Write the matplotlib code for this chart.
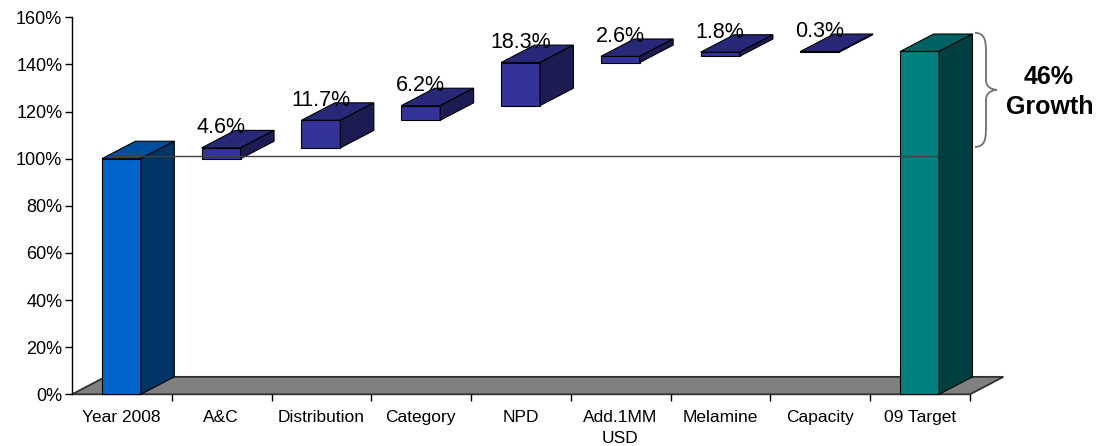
import numpy as np
import matplotlib as mpl
import matplotlib.pyplot as plt
from matplotlib.patches import Polygon, PathPatch
from matplotlib.path import Path

mpl.rcParams.update({
    "font.family": ["Liberation Sans", "DejaVu Sans"],
    "font.size": 12.5,
})

# ---- data ------------------------------------------------------------------
categories = ["Year 2008", "A&C", "Distribution", "Category", "NPD",
              "Add.1MM\nUSD", "Melamine", "Capacity", "09 Target"]
start_value = 100.0
increments = [4.6, 11.7, 6.2, 18.3, 2.6, 1.8, 0.3]
target_value = 145.5
growth_lines = ["46%", "Growth"]
yticks = [0, 20, 40, 60, 80, 100, 120, 140, 160]

# ---- style ------------------------------------------------------------------
FRONT = {"start": "#0066CC", "step": "#333399", "target": "#008080"}
TOP = {"start": "#004E9E", "step": "#282878", "target": "#006262"}
SIDE = {"start": "#003366", "step": "#1C1C52", "target": "#004040"}
BAR_OFF, BAR_W = 0.30, 0.39      # front face left offset / width (category units)
DX, DY = 0.335, 7.4              # 3-D depth offset (categories, percent)


def box(ax, x0, y0, y1, kind):
    x1 = x0 + BAR_W
    kw = dict(edgecolor="black", linewidth=0.8, clip_on=False, zorder=3)
    ax.add_patch(Polygon([(x0, y0), (x1, y0), (x1, y1), (x0, y1)],
                         facecolor=FRONT[kind], **kw))
    ax.add_patch(Polygon([(x0, y1), (x1, y1), (x1 + DX, y1 + DY), (x0 + DX, y1 + DY)],
                         facecolor=TOP[kind], **kw))
    ax.add_patch(Polygon([(x1, y0), (x1 + DX, y0 + DY), (x1 + DX, y1 + DY), (x1, y1)],
                         facecolor=SIDE[kind], **kw))


def brace(ax, x, y_top, y_bot, depth):
    ym = (y_top + y_bot) / 2
    q = depth / 2
    h = (y_top - y_bot) * 0.09
    verts = [(x, y_top),
             (x + q, y_top), (x + q, y_top - h), (x + q, y_top - 2 * h),
             (x + q, ym + h),
             (x + q, ym), (x + depth, ym), (x + depth, ym),
             (x + depth, ym), (x + q, ym), (x + q, ym - h),
             (x + q, y_bot + 2 * h),
             (x + q, y_bot + h), (x + q, y_bot), (x, y_bot)]
    codes = ([Path.MOVETO] + [Path.CURVE4] * 3 + [Path.LINETO] + [Path.CURVE4] * 6
             + [Path.LINETO] + [Path.CURVE4] * 3)
    ax.add_patch(PathPatch(Path(verts, codes), facecolor="none", edgecolor="#707070",
                           linewidth=1.3, clip_on=False, zorder=4))


fig = plt.figure(figsize=(11.03, 4.46), dpi=100)
ax = fig.add_axes([72 / 1103, (446 - 394.3) / 446, 898 / 1103, 377 / 446])
n = len(categories)
ax.set_xlim(0, n)
ax.set_ylim(0, 160)

# floor
ax.add_patch(Polygon([(0, 0), (n, 0), (n + DX, DY), (DX, DY)], facecolor="#808080",
                     edgecolor="#303030", linewidth=1.3, clip_on=False, zorder=1))

# bars
tops = start_value + np.cumsum(increments)
bases = tops - np.array(increments)
box(ax, BAR_OFF, 0, start_value, "start")
for i, (b, t, v) in enumerate(zip(bases, tops, increments), start=1):
    box(ax, i + BAR_OFF, b, t, "step")
    ax.text(i + BAR_OFF + BAR_W / 2, t + 8.5, f"{v:.1f}%", ha="center", va="center",
            fontsize=15.5, zorder=6)
box(ax, n - 1 + BAR_OFF, 0, target_value, "target")

# reference line at the starting level
ax.plot([0.41, n - 1 + BAR_OFF + 0.39], [start_value + 1.3] * 2, color="#404040",
        linewidth=1.0, zorder=5, clip_on=False)

# growth brace + text
brace(ax, 9.05, 153.4, 105.0, 0.22)
ax.text(9.79, 134.7, growth_lines[0], ha="center", va="center", fontsize=18,
        fontweight="bold", zorder=6, clip_on=False)
ax.text(9.80, 122.0, growth_lines[1], ha="center", va="center", fontsize=18,
        fontweight="bold", zorder=6, clip_on=False)

# axes
for s in ["top", "right", "bottom"]:
    ax.spines[s].set_visible(False)
ax.spines["left"].set_linewidth(1.0)
ax.set_yticks(yticks)
ax.set_yticklabels([f"{v}%" for v in yticks])
ax.tick_params(axis="y", length=5, width=1, pad=2, labelsize=13)
ax.set_xticks(np.arange(n) + BAR_OFF + BAR_W / 2)
ax.set_xticklabels(categories, linespacing=1.55)
ax.set_xticks(np.arange(1, n + 1), minor=True)
ax.tick_params(axis="x", which="major", length=0, pad=11, labelsize=12.5)
ax.tick_params(axis="x", which="minor", length=5, width=1)

fig.savefig("out.png", dpi=100)
